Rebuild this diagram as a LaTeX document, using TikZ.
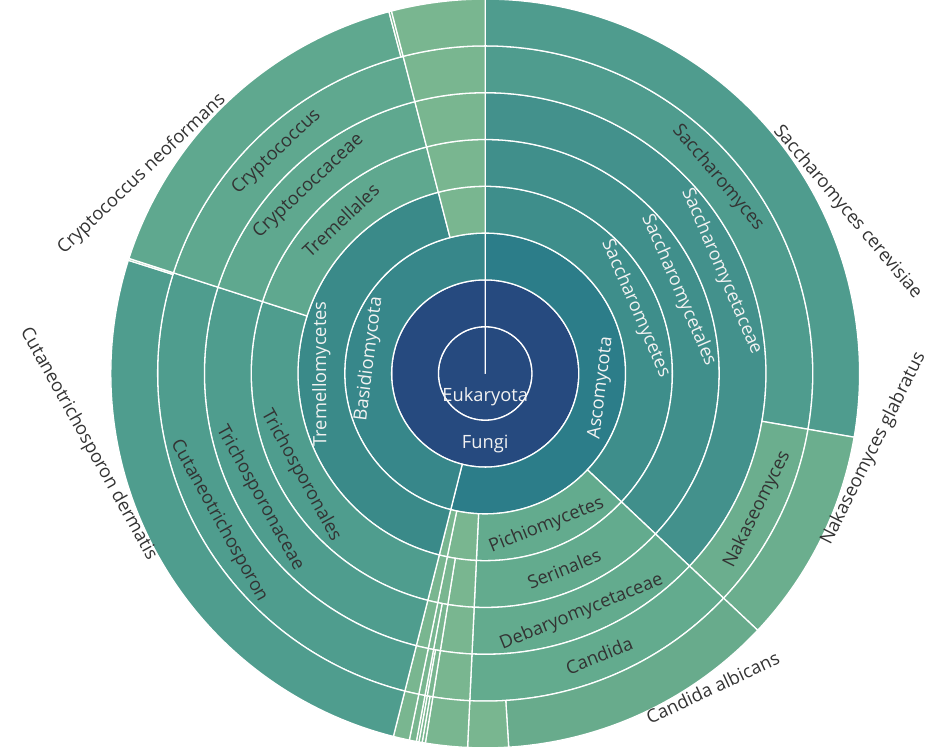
\documentclass[tikz,border=0pt]{standalone}
\usepackage{fontspec}
\setmainfont{Open Sans}
\definecolor{navy}{HTML}{264A7F}
\definecolor{asco}{HTML}{2C7D89}
\definecolor{basi}{HTML}{37878A}
\definecolor{sacA}{HTML}{3E8E8B}
\definecolor{sacB}{HTML}{408F8B}
\definecolor{sacC}{HTML}{43918C}
\definecolor{sacD}{HTML}{4F9C8E}
\definecolor{nak}{HTML}{6BAE8E}
\definecolor{pich}{HTML}{63AB8E}
\definecolor{calb}{HTML}{68AB8C}
\definecolor{lgr}{HTML}{79B690}
\definecolor{trem}{HTML}{3A8A89}
\definecolor{tric}{HTML}{4F9D8E}
\definecolor{cryp}{HTML}{5FA88F}
\definecolor{labw}{HTML}{F2F2F2}
\definecolor{labd}{HTML}{333333}
\tikzset{
  sec/.style={draw=white, line width=1.3pt, line join=round},
  lab/.style={font=\fontsize{18.3}{20}\selectfont, inner sep=0pt},
}
% sector: theta1 theta2 (clockwise from top) r1 r2 colour
\newcommand\sect[5]{%
  \pgfmathsetmacro\secA{90-#1}\pgfmathsetmacro\secB{90-#2}%
  \filldraw[sec, fill=#5] (\secA:#3) -- (\secA:#4)
    arc[start angle=\secA, end angle=\secB, radius=#4]
    -- (\secB:#3) arc[start angle=\secB, end angle=\secA, radius=#3] -- cycle;}
% label: name theta r rotate anchor colour text
\newcommand\slab[7]{%
  \pgfmathsetmacro\secA{90-#2}%
  \node[lab, text=#6, rotate=#4, anchor=#5] (#1) at (\secA:#3) {#7};}
\begin{document}
\begin{tikzpicture}[x=1pt,y=1pt]
\useasboundingbox (0,0) rectangle (938,755);
\begin{scope}[shift={(485.2,381.5)}]
% ring 1, 2
\sect{0}{360}{0.01}{46.8}{navy}
\sect{0}{360}{46.8}{93.6}{navy}
% ring 3 phylum
\sect{0}{194.2}{93.6}{140.4}{asco}
\sect{194.2}{360}{93.6}{140.4}{basi}
% ring 4 class
\sect{0}{133.3}{140.4}{187.2}{sacA}
\sect{133.3}{182.7}{140.4}{187.2}{pich}
\sect{182.7}{191.7}{140.4}{187.2}{lgr}
\sect{191.7}{194.2}{140.4}{187.2}{lgr}
\sect{194.2}{345.5}{140.4}{187.2}{trem}
\sect{345.5}{360}{140.4}{187.2}{lgr}
% ring 5 order
\sect{0}{133.3}{187.2}{234}{sacB}
\sect{133.3}{182.7}{187.2}{234}{pich}
\sect{182.7}{189.2}{187.2}{234}{lgr}
\sect{189.2}{191.7}{187.2}{234}{lgr}
\sect{191.7}{194.2}{187.2}{234}{lgr}
\sect{194.2}{287.9}{187.2}{234}{tric}
\sect{287.9}{345.5}{187.2}{234}{cryp}
\sect{345.5}{360}{187.2}{234}{lgr}
% ring 6 family
\sect{0}{133.3}{234}{280.8}{sacC}
\sect{133.3}{182.7}{234}{280.8}{pich}
\sect{182.7}{189.2}{234}{280.8}{lgr}
\sect{189.2}{190.6}{234}{280.8}{lgr}
\sect{190.6}{191.7}{234}{280.8}{lgr}
\sect{191.7}{194.2}{234}{280.8}{lgr}
\sect{194.2}{287.9}{234}{280.8}{tric}
\sect{287.9}{345.5}{234}{280.8}{cryp}
\sect{345.5}{360}{234}{280.8}{lgr}
% ring 7 genus
\sect{0}{99.8}{280.8}{327.6}{sacD}
\sect{99.8}{133.3}{280.8}{327.6}{nak}
\sect{133.3}{182.7}{280.8}{327.6}{pich}
\sect{182.7}{189.2}{280.8}{327.6}{lgr}
\sect{189.2}{190.2}{280.8}{327.6}{lgr}
\sect{190.2}{190.6}{280.8}{327.6}{lgr}
\sect{190.6}{191.7}{280.8}{327.6}{lgr}
\sect{191.7}{194.2}{280.8}{327.6}{lgr}
\sect{194.2}{287.9}{280.8}{327.6}{tric}
\sect{287.9}{345.5}{280.8}{327.6}{cryp}
\sect{345.5}{360}{280.8}{327.6}{lgr}
% ring 8 species
\sect{0}{99.8}{327.6}{374.4}{sacD}
\sect{99.8}{133.3}{327.6}{374.4}{nak}
\sect{133.3}{176.4}{327.6}{374.4}{calb}
\sect{176.4}{182.7}{327.6}{374.4}{lgr}
\sect{182.7}{189.2}{327.6}{374.4}{lgr}
\sect{189.2}{189.7}{327.6}{374.4}{lgr}
\sect{189.7}{190.2}{327.6}{374.4}{lgr}
\sect{190.2}{190.6}{327.6}{374.4}{lgr}
\sect{190.6}{191.7}{327.6}{374.4}{lgr}
\sect{191.7}{194.2}{327.6}{374.4}{lgr}
\sect{194.2}{287.6}{327.6}{374.4}{tric}
\sect{287.6}{287.9}{327.6}{374.4}{lgr}
\sect{287.9}{345.1}{327.6}{374.4}{cryp}
\sect{345.1}{345.5}{327.6}{374.4}{lgr}
\sect{345.5}{360}{327.6}{374.4}{lgr}
% labels
\slab{eu}{180}{23.4}{0}{center}{labw}{Eukaryota}
\slab{fu}{180}{70.2}{0}{center}{labw}{Fungi}
\slab{as}{97.1}{117}{82.9}{center}{labw}{Ascomycota}
\slab{ba}{277.1}{117}{82.9}{center}{labw}{Basidiomycota}
\slab{sc}{66.65}{163.8}{-66.65}{center}{labw}{Saccharomycetes}
\slab{pi}{158}{163.8}{22}{center}{labd}{Pichiomycetes}
\slab{tm}{269.85}{163.8}{90.15}{center}{labw}{Tremellomycetes}
\slab{so}{66.65}{210.6}{-66.65}{center}{labw}{Saccharomycetales}
\slab{se}{158}{210.6}{22}{center}{labd}{Serinales}
\slab{to}{241.05}{210.6}{-61.05}{center}{labd}{Trichosporonales}
\slab{tl}{316.7}{210.6}{43.3}{center}{labd}{Tremellales}
\slab{sf}{66.65}{257.4}{-66.65}{center}{labw}{Saccharomycetaceae}
\slab{df}{158}{257.4}{22}{center}{labd}{Debaryomycetaceae}
\slab{tf}{241.05}{257.4}{-61.05}{center}{labd}{Trichosporonaceae}
\slab{cf}{316.7}{257.4}{43.3}{center}{labd}{Cryptococcaceae}
\slab{sg}{49.9}{304.2}{-49.9}{center}{labd}{Saccharomyces}
\slab{ng}{116.55}{304.2}{63.45}{center}{labd}{Nakaseomyces}
\slab{cg}{158}{304.2}{22}{center}{labd}{Candida}
\slab{tg}{241.05}{304.2}{-61.05}{center}{labd}{Cutaneotrichosporon}
\slab{kg}{316.7}{304.2}{43.3}{center}{labd}{Cryptococcus}
\slab{s1}{49.9}{381}{-49.9}{west}{labd}{Saccharomyces cerevisiae}
\slab{s2}{116.55}{381}{63.45}{west}{labd}{Nakaseomyces glabratus}
\slab{s3}{154.85}{381}{25.15}{west}{labd}{Candida albicans}
\slab{s4}{240.9}{381}{-60.9}{east}{labd}{Cutaneotrichosporon dermatis}
\slab{s5}{316.5}{381}{43.5}{east}{labd}{Cryptococcus neoformans}
\end{scope}
\end{tikzpicture}
\end{document}
